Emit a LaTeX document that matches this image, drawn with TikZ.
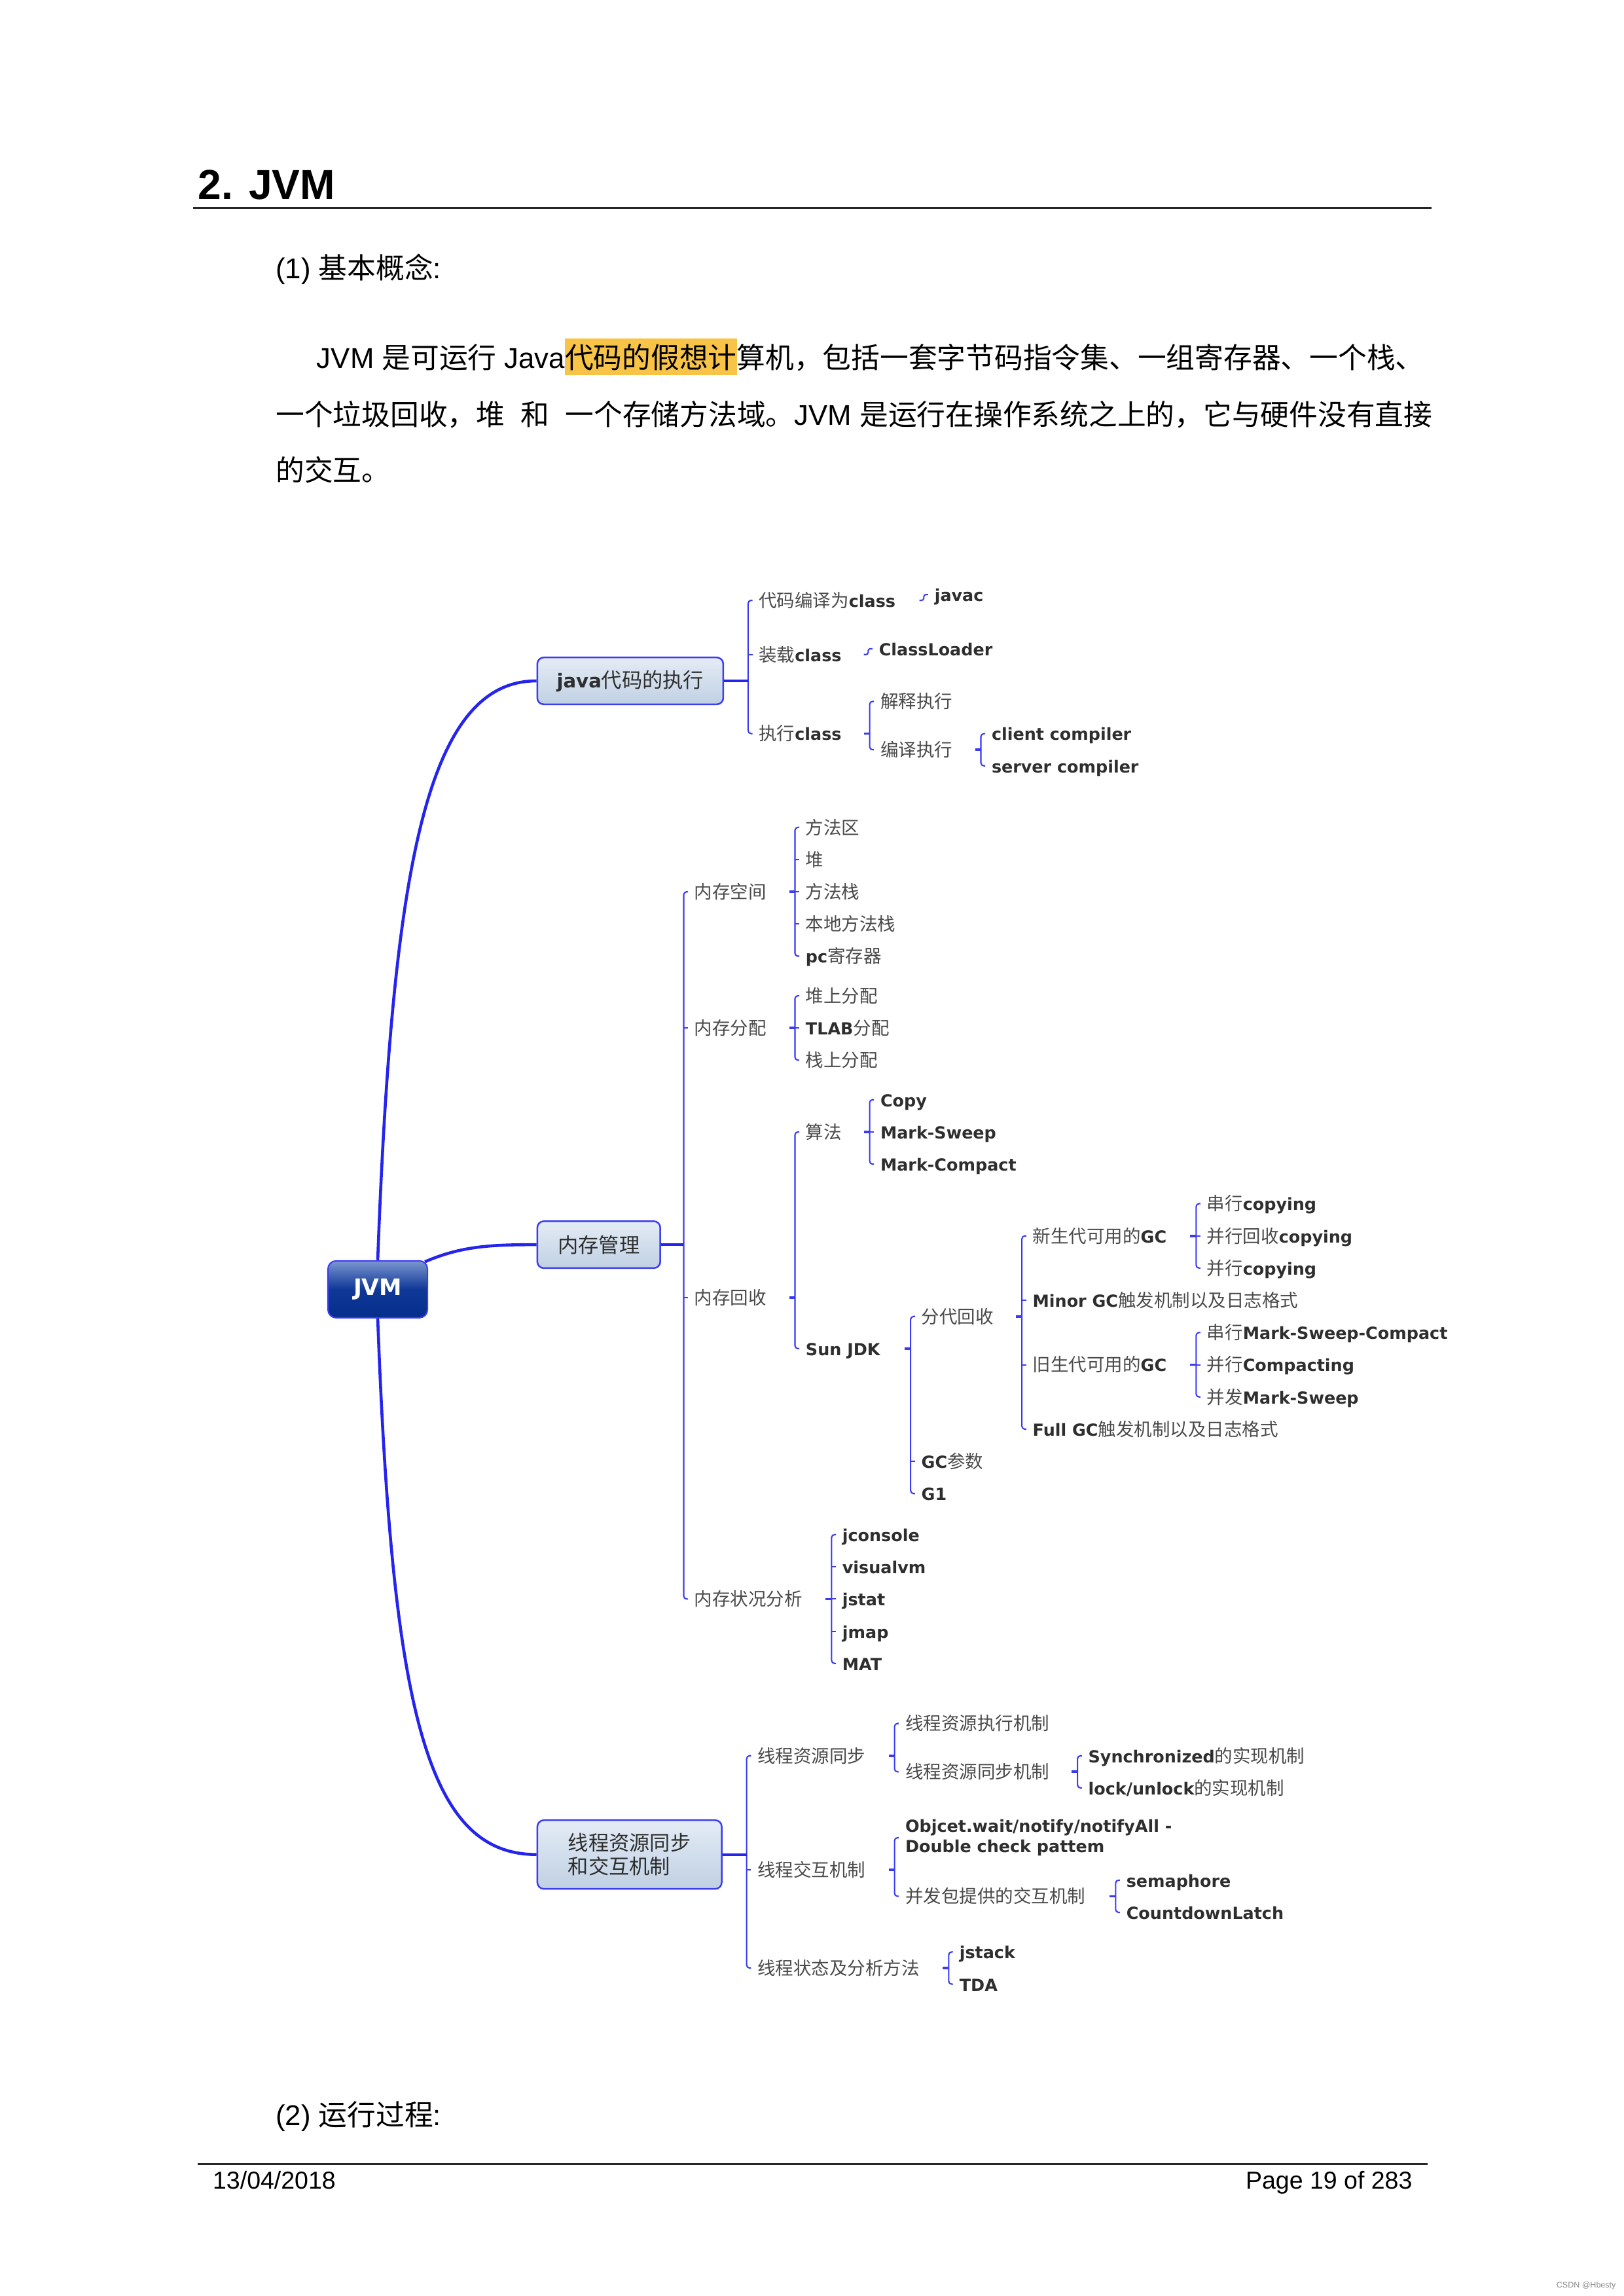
\documentclass[tikz,border=0pt]{standalone}
\usepackage{fontspec}
\setmainfont{Liberation Sans}
\newfontfamily\cjk{Noto Sans CJK SC}
\newfontfamily\mlat{DejaVu Sans}
\usetikzlibrary{calc}
\definecolor{hl}{HTML}{F7C448}
\definecolor{mmblue}{HTML}{2424EE}
\definecolor{brblue}{HTML}{3A3AF5}
\definecolor{mmgray}{HTML}{4A4A4A}
\definecolor{mmdark}{HTML}{2E2E2E}
\definecolor{boxtop}{HTML}{E4ECF6}
\definecolor{boxbot}{HTML}{C0D0E3}
\definecolor{jvmtop}{HTML}{7B96CF}
\definecolor{jvmmid}{HTML}{0F3897}
\definecolor{jvmbot}{HTML}{062E8B}
\definecolor{boxline}{HTML}{3C3CF2}
\newcommand\zh[1]{{\cjk #1}}
\newcommand\lt[1]{{\mlat\bfseries\fontsize{6.1pt}{7.5pt}\selectfont\color{mmdark}#1}}
\newcommand\mmbo{3.76pt}
\newcommand\mmtk{1.6pt}
% bracket: parent, first child, last child
\newcommand\brk[3]{%
  \draw[brl] let \p1=(#2.west), \p2=(#3.west) in
    (\x1-\mmbo+\mmtk,\y1) -- (\x1-\mmbo,\y1) -- (\x1-\mmbo,\y2) -- (\x1-\mmbo+\mmtk,\y2);
  \draw[brp] let \p1=(#2.west), \p3=(#1.east) in (\x1-\mmbo,\y3) -- ++(-4,0);}
% bracket from a box
\newcommand\brbox[3]{%
  \draw[brl] let \p1=(#2.west), \p2=(#3.west) in
    (\x1-\mmbo+\mmtk,\y1) -- (\x1-\mmbo,\y1) -- (\x1-\mmbo,\y2) -- (\x1-\mmbo+\mmtk,\y2);
  \draw[stub] let \p1=(#2.west), \p3=(#1.east) in (#1.east) -- (\x1-\mmbo,\y3);}
% middle ticks
\newcommand\brm[1]{\foreach \cn in {#1}{\draw[brl] let \p1=(\cn.west) in (\x1-\mmbo,\y1) -- ++(3,0);}}
% single child
\newcommand\brone[2]{%
  \draw[brl,rounded corners=0.8pt] let \p1=(#2.west), \p3=(#1.east) in
    (\x1-\mmbo-\mmtk,\y3) -- (\x1-\mmbo,\y3) -- (\x1-\mmbo,\y1) -- (\x1-\mmbo+\mmtk,\y1);}
\tikzset{
 mm/.style={anchor=west, inner sep=0pt, text=mmgray, font=\cjk\fontsize{6.6pt}{7.5pt}\selectfont, text height=5.8pt, text depth=0.8pt},
 mmtwo/.style={anchor=west, inner sep=0pt, text=mmgray, font=\cjk\fontsize{6.6pt}{7.5pt}\selectfont, align=left},
 lbox/.style={draw=boxline, line width=0.6pt, rounded corners=2.4pt, top color=boxtop, bottom color=boxbot, inner sep=0pt, text=mmdark, font=\cjk\fontsize{7.5pt}{8.6pt}\selectfont},
 jvmbox/.style={draw=boxline, line width=0.5pt, rounded corners=3pt, top color=jvmtop, bottom color=jvmbot, middle color=jvmmid, text=white, font=\mlat\bfseries\fontsize{8.3pt}{10pt}\selectfont, minimum width=36.5pt, minimum height=20.9pt, inner sep=0pt},
 mainc/.style={draw=mmblue, line width=1.1pt},
 stub/.style={draw=mmblue, line width=0.9pt},
 brl/.style={draw=brblue, line width=0.5pt, rounded corners=1.1pt},
 brp/.style={draw=brblue, line width=0.9pt},
 body/.style={inner sep=0pt, anchor=base west, font=\fontsize{10.5pt}{13pt}\selectfont},
}
\begin{document}
\begin{tikzpicture}[x=0.53677pt, y=-0.53677pt]
\fill[white] (0,0) rectangle (1109,1568);
\useasboundingbox (0,0) rectangle (1109,1568);
% heading and text
\node[inner sep=0pt, anchor=base west, font=\bfseries\fontsize{15.4pt}{19pt}\selectfont] (title) at (135,136) {2. JVM};
\coordinate (rl) at (132,142); \coordinate (rr) at (978,142);
\draw[line width=0.7pt, color=black!85] (rl) -- (rr);
\node[body] (l0) at (188,190.4) {(1) \zh{基本概念}:};
\node[body] (l1) at (216,251.4) {JVM \zh{是可运行} Java{\setlength\fboxsep{0pt}\colorbox{hl}{\rule[-2.47pt]{0pt}{13.42pt}\zh{代码的假想计}}}\zh{算机，包括一套字节码指令集、一组寄存器、一个栈、}};
\node[body] (l2) at (188,290.4) {\zh{一个垃圾回收，堆}\ \ \zh{和}\ \ \zh{一个存储方法域。}JVM \zh{是运行在操作系统之上的，它与硬件没有直接}};
\node[body] (l3) at (188,328.4) {\zh{的交互。}};
\node[body] (l4) at (188,1451.4) {(2) \zh{运行过程}:};
\coordinate (fl) at (135,1478); \coordinate (fr) at (975,1478);
\draw[line width=0.6pt, color=black!85] (fl) -- (fr);
\node[inner sep=0pt, anchor=base west, font=\fontsize{9pt}{11pt}\selectfont] (date) at (145,1495) {13/04/2018};
\node[inner sep=0pt, anchor=base east, font=\fontsize{9pt}{11pt}\selectfont] (page) at (965,1495) {Page 19 of 283};
\node[inner sep=0pt, anchor=east, text=black!45, font=\fontsize{3pt}{3.5pt}\selectfont] (wm) at (1104,1561) {CSDN @Hbesty};
% boxes
\node[jvmbox] (jvm) at (258,880.5) {JVM};
\node[lbox, minimum width=68.2pt, minimum height=17.2pt] (bj) at (430.5,465) {{\mlat\bfseries\fontsize{7pt}{9pt}\selectfont java}代码的执行};
\node[lbox, minimum width=45.1pt, minimum height=17.2pt] (bm) at (409,850) {内存管理};
\node[lbox, minimum width=67.6pt, minimum height=25.2pt, align=left] (bt) at (430,1266.5) {线程资源同步\\和交互机制};
% main connectors
\draw[mainc] (jvm.north) .. controls (268,590) and (292,465) .. (bj.west);
\draw[mainc] ([xshift=-1.2pt,yshift=-0.6pt]jvm.north east) .. controls (315,851) and (335,850) .. (bm.west);
\draw[mainc] (jvm.south) .. controls (268,1170) and (292,1266.5) .. (bt.west);
% java group
\node[mm] (j1) at (518,410) {代码编译为\lt{class}};
\node[mm] (j2) at (518,447) {装载\lt{class}};
\node[mm] (j3) at (518,501) {执行\lt{class}};
\node[mm] (j1a) at (638,406) {\lt{javac}};
\node[mm] (j2a) at (600,443) {\lt{ClassLoader}};
\node[mm] (j3a) at (601,479) {解释执行};
\node[mm] (j3b) at (601,512) {编译执行};
\node[mm] (j3b1) at (677,501) {\lt{client compiler}};
\node[mm] (j3b2) at (677,523) {\lt{server compiler}};
% memory group
\node[mm] (m1) at (474,609) {内存空间};
\node[mm] (m2) at (474,702) {内存分配};
\node[mm] (m3) at (474,886) {内存回收};
\node[mm] (m4) at (474,1092) {内存状况分析};
\node[mm] (s1) at (550,565) {方法区};
\node[mm] (s2) at (550,587) {堆};
\node[mm] (s3) at (550,609) {方法栈};
\node[mm] (s4) at (550,631) {本地方法栈};
\node[mm] (s5) at (550,653) {\lt{pc}寄存器};
\node[mm] (a1) at (550,680) {堆上分配};
\node[mm] (a2) at (550,702) {\lt{TLAB}分配};
\node[mm] (a3) at (550,724) {栈上分配};
\node[mm] (r1) at (550,773) {算法};
\node[mm] (r2) at (550,921) {\lt{Sun JDK}};
\node[mm] (g1) at (601,751) {\lt{Copy}};
\node[mm] (g2) at (601,773) {\lt{Mark-Sweep}};
\node[mm] (g3) at (601,795) {\lt{Mark-Compact}};
\node[mm] (d1) at (629,899) {分代回收};
\node[mm] (d2) at (629,998) {\lt{GC}参数};
\node[mm] (d3) at (629,1020) {\lt{G1}};
\node[mm] (e1) at (705,844) {新生代可用的\lt{GC}};
\node[mm] (e2) at (705,888) {\lt{Minor GC}触发机制以及日志格式};
\node[mm] (e3) at (705,932) {旧生代可用的\lt{GC}};
\node[mm] (e4) at (705,976) {\lt{Full GC}触发机制以及日志格式};
\node[mm] (y1) at (824,822) {串行\lt{copying}};
\node[mm] (y2) at (824,844) {并行回收\lt{copying}};
\node[mm] (y3) at (824,866) {并行\lt{copying}};
\node[mm] (o1) at (824,910) {串行\lt{Mark-Sweep-Compact}};
\node[mm] (o2) at (824,932) {并行\lt{Compacting}};
\node[mm] (o3) at (824,954) {并发\lt{Mark-Sweep}};
\node[mm] (k1) at (575,1048) {\lt{jconsole}};
\node[mm] (k2) at (575,1070) {\lt{visualvm}};
\node[mm] (k3) at (575,1092) {\lt{jstat}};
\node[mm] (k4) at (575,1114) {\lt{jmap}};
\node[mm] (k5) at (575,1136) {\lt{MAT}};
% thread group
\node[mm] (t1) at (517,1199) {线程资源同步};
\node[mm] (t2) at (517,1277) {线程交互机制};
\node[mm] (t3) at (517,1344) {线程状态及分析方法};
\node[mm] (u1) at (618,1177) {线程资源执行机制};
\node[mm] (u2) at (618,1210) {线程资源同步机制};
\node[mm] (v1) at (743,1199) {\lt{Synchronized}的实现机制};
\node[mm] (v2) at (743,1221) {\lt{lock/unlock}的实现机制};
\node[mmtwo] (w1) at (618,1255) {\lt{Objcet.wait/notify/notifyAll -}\\\lt{Double check pattem}};
\node[mm] (w2) at (618,1295) {并发包提供的交互机制};
\node[mm] (x1) at (769,1284) {\lt{semaphore}};
\node[mm] (x2) at (769,1306) {\lt{CountdownLatch}};
\node[mm] (z1) at (655,1333) {\lt{jstack}};
\node[mm] (z2) at (655,1355) {\lt{TDA}};
% brackets
\brbox{bj}{j1}{j3}\brm{j2}
\brone{j1}{j1a}
\brone{j2}{j2a}
\brk{j3}{j3a}{j3b}
\brk{j3b}{j3b1}{j3b2}
\brbox{bm}{m1}{m4}\brm{m2,m3}
\brk{m1}{s1}{s5}\brm{s2,s3,s4}
\brk{m2}{a1}{a3}\brm{a2}
\brk{m3}{r1}{r2}
\brk{r1}{g1}{g3}\brm{g2}
\brk{r2}{d1}{d3}\brm{d2}
\brk{d1}{e1}{e4}\brm{e2,e3}
\brk{e1}{y1}{y3}\brm{y2}
\brk{e3}{o1}{o3}\brm{o2}
\brk{m4}{k1}{k5}\brm{k2,k3,k4}
\brbox{bt}{t1}{t3}\brm{t2}
\brk{t1}{u1}{u2}
\brk{u2}{v1}{v2}
\brk{t2}{w1}{w2}
\brk{w2}{x1}{x2}
\brk{t3}{z1}{z2}
\end{tikzpicture}
\end{document}
